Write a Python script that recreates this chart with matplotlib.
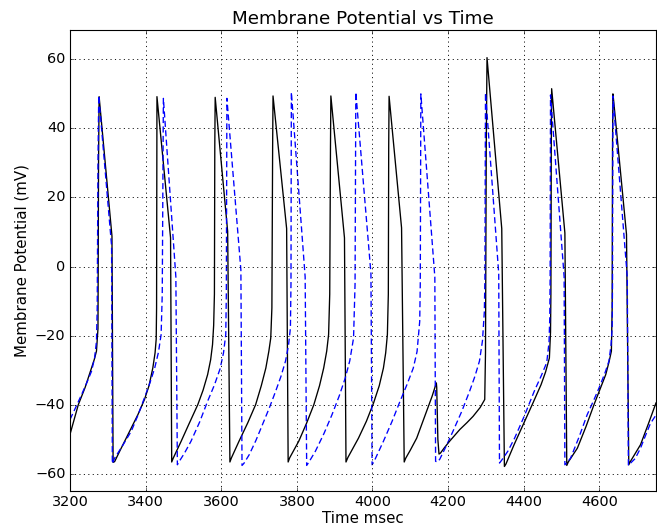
import numpy as np
import matplotlib
matplotlib.use('Agg')
import matplotlib.pyplot as plt

# black trace (solid): time in msec, potential in mV
t_black = [3200, 3222, 3240, 3257, 3264, 3270, 3274, 3275.5, 3277,
           3311, 3314, 3318, 3330, 3345, 3362, 3380, 3397, 3409, 3419, 3425, 3428, 3429, 3429.6, 3430,
           3466, 3469, 3473, 3494, 3515, 3538, 3552, 3564, 3572, 3577, 3580, 3582, 3583, 3584,
           3617, 3623, 3627, 3647, 3670, 3691, 3706, 3718, 3726, 3731, 3734, 3736, 3737,
           3773, 3777, 3781, 3805, 3826, 3845, 3860, 3871, 3879, 3884, 3887, 3889, 3890,
           3926, 3930, 3935, 3963, 3984, 4003, 4018, 4029, 4035, 4039.5, 4042, 4043, 4044,
           4077, 4084, 4088, 4100, 4117, 4143, 4158, 4169, 4170, 4173, 4176, 4180, 4190, 4204,
           4231, 4250, 4266, 4285, 4297, 4299, 4301, 4303,
           4342, 4349, 4353, 4375, 4402, 4425, 4446, 4458, 4468, 4471, 4472, 4473, 4474,
           4509, 4514, 4518, 4542, 4565, 4586, 4602, 4617, 4626, 4632, 4634, 4635, 4636,
           4638, 4672, 4678, 4682, 4709, 4730, 4750]
v_black = [-48.6, -40, -35, -29.4, -27, -24.5, -18, 30, 49.2,
           8.8, -56.7, -56.5, -53.8, -50.5, -46.8, -42.8, -38.5, -34.5, -29.4, -25, -21, -12, 35, 49.2,
           8.3, -56.6, -55.5, -50.6, -45.5, -40, -35.8, -31.3, -27, -22.6, -17, -8, 35, 49,
           10.2, -56.6, -55.4, -50.6, -45.3, -40, -34.5, -29.4, -24.5, -20.7, -12, 35, 49.4,
           11, -56.6, -55.4, -50.6, -45.3, -40, -34.5, -29.4, -24.5, -19.7, -8, 35, 49.4,
           8.3, -56.6, -55.3, -49.7, -44.8, -39.5, -34.5, -29.4, -25, -19.7, -8, 35, 49.3,
           11.2, -56.6, -55.5, -53.2, -49.7, -42, -37.5, -33.7, -35, -50, -54.3, -54, -52.5, -50.6,
           -47.2, -45.2, -43.4, -40.8, -38.5, -25, 35, 60.5,
           11, -57.9, -57.2, -51.5, -45, -39.4, -34.2, -30.5, -26.5, -19, -8, 35, 51.5,
           9.7, -57.6, -56.6, -52.6, -46.3, -40, -35.5, -31.3, -27.5, -24.5, -12, 35, 50,
           48, 9.3, -57.4, -56.5, -51.6, -45.5, -39.5]

# blue trace (dashed)
t_blue = [3200, 3215, 3231, 3245, 3257, 3265, 3270, 3272, 3274, 3276,
          3310, 3312, 3318, 3340, 3362, 3380, 3397, 3412, 3424, 3434, 3441, 3444, 3446, 3447,
          3480, 3484, 3488, 3503, 3520, 3543, 3564, 3582, 3597, 3606, 3612, 3613.5, 3614.5, 3615,
          3652, 3655, 3660, 3674, 3692, 3709, 3727, 3744, 3758, 3770, 3778, 3783, 3784.5, 3785.5,
          3822, 3826, 3831, 3849, 3872, 3893, 3912, 3928, 3940, 3950, 3954, 3956,
          3996, 3999, 4004, 4029, 4052, 4073, 4092, 4108, 4118, 4125, 4126.5, 4128,
          4165, 4167, 4172, 4178, 4195, 4213, 4236, 4257, 4271, 4283, 4291, 4296, 4297.5, 4299,
          4334, 4336, 4341, 4358, 4376, 4402, 4428, 4447, 4461, 4467, 4469, 4470, 4471,
          4507, 4509, 4513, 4524, 4546, 4568, 4587, 4603, 4616, 4625.5, 4631, 4634, 4635, 4636,
          4674, 4677, 4682, 4695, 4709, 4722, 4735, 4750]
v_blue = [-44.3, -40.8, -37, -33.5, -30.3, -26.5, -21.7, -12, 30, 49.5,
          6, -57.1, -55.5, -51.7, -47.7, -43, -38, -33.5, -29.4, -24.8, -19.7, -8, 30, 48.7,
          -3, -57.4, -56.6, -54, -50.6, -45, -39, -34.3, -29.6, -25, -19.7, -8, 30, 48.7,
          -1, -57.6, -57, -54.5, -50.3, -45.8, -41, -36.1, -31.8, -27.4, -22.8, -17.8, -5, 50.5,
          -3, -57.6, -56.8, -53.5, -48.3, -42.9, -37.5, -32.3, -27.3, -20.7, -5, 50.5,
          -2, -57.4, -56.5, -50.6, -44.8, -39, -34, -29.4, -24.6, -15.9, -5, 50,
          -3, -56.4, -56.6, -55.8, -52, -47.7, -42, -36.1, -31.8, -27.4, -21.5, -13, -3, 50.3,
          -2, -56.9, -56.2, -53.5, -49.7, -43.2, -36.1, -31.5, -27.8, -22, -14.9, -3, 49.7,
          -3, -57.4, -57, -55.5, -49.5, -42.9, -38.3, -34.2, -30.5, -27.4, -22.8, -17.8, -5, 49.4,
          -3, -57.6, -57, -55.6, -52.6, -49, -45.5, -43]

xticks = np.arange(3200, 4601, 200)
yticks = np.arange(-60, 61, 20)

plt.style.use('classic')
plt.rcParams['font.family'] = ['DejaVu Sans']
plt.rcParams['figure.facecolor'] = 'white'

fig = plt.figure(figsize=(657/80, 526/80), dpi=80)
ax = fig.add_axes([70/657, 35/526, 586/657, 461/526])
ax.plot(t_black, v_black, color='k', lw=1.2)
ax.plot(t_blue, v_blue, color='b', lw=1.2, linestyle='--', dashes=(5.5, 3))

ax.set_xlim(3200, 4750)
ax.set_ylim(-65, 68.5)
ax.set_xticks(xticks)
ax.set_yticks(yticks)
ax.grid(True, color='k', linestyle=':', linewidth=0.8)
ax.set_title('Membrane Potential vs Time', fontsize=16.5)
ax.set_xlabel('Time msec', fontsize=13.5, labelpad=1)
ax.set_ylabel('Membrane Potential (mV)', fontsize=13.5)
ax.tick_params(labelsize=13)

fig.savefig('out.png', dpi=80, facecolor='white')
